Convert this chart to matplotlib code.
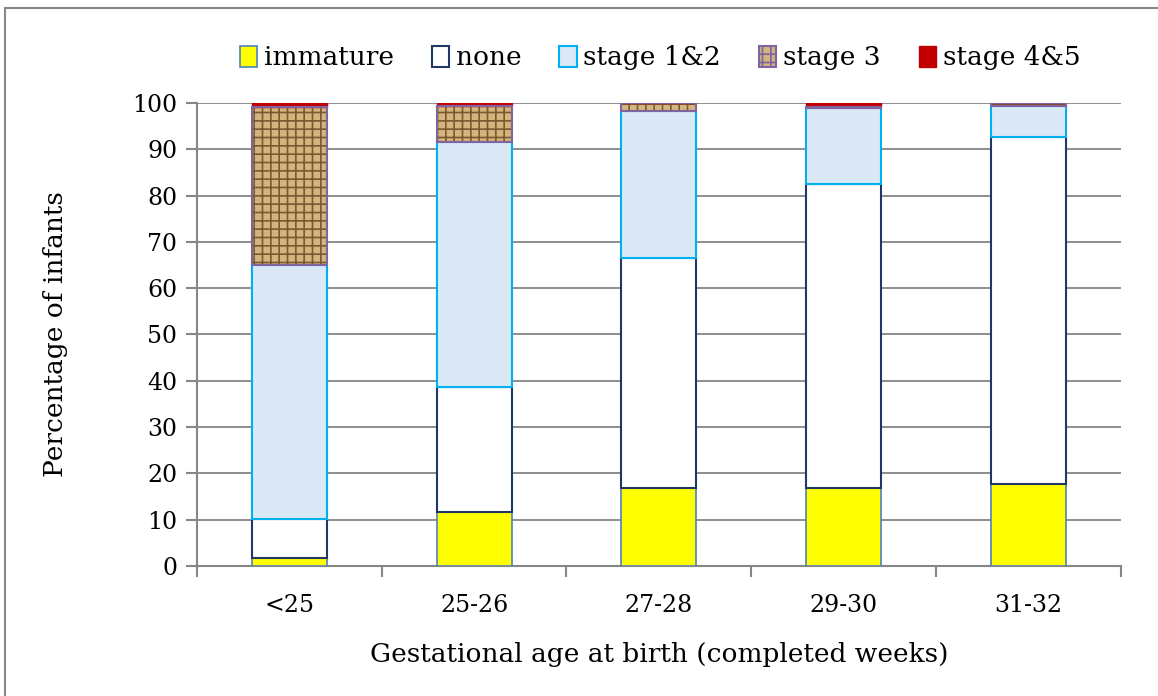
import numpy as np
import matplotlib.pyplot as plt
from matplotlib.patches import Patch, Rectangle

plt.rcParams.update(
    {
        "font.family": "DejaVu Serif",
        "hatch.linewidth": 1.2,
    }
)

categories = ["<25", "25-26", "27-28", "29-30", "31-32"]
immature = [1.7, 11.7, 16.8, 16.8, 17.7]
none = [8.5, 27.0, 49.7, 65.7, 75.0]
stage12 = [54.8, 52.9, 31.8, 16.4, 6.7]
stage3 = [34.2, 7.7, 1.7, 0.3, 0.6]
stage45 = [0.8, 0.7, 0.0, 0.8, 0.0]

series = [
    ("immature", immature, dict(facecolor="#ffff00", edgecolor="#4f81bd", linewidth=1.2)),
    ("none", none, dict(facecolor="white", edgecolor="#1f3864", linewidth=1.5)),
    ("stage 1&2", stage12, dict(facecolor="#dbe9f6", edgecolor="#00b0f0", linewidth=1.5)),
    ("stage 3", stage3, dict(facecolor="#d2b47c", edgecolor="#8064a2", linewidth=1.5)),
    ("stage 4&5", stage45, dict(facecolor="#c00000", edgecolor="#c00000", linewidth=1.0)),
]

if __name__ == "__main__":
    fig = plt.figure(figsize=(11.58, 6.96), dpi=100)
    ax = fig.add_axes([0.170, 0.187, 0.798, 0.665])

    x = np.arange(len(categories))
    width = 0.405
    bottom = np.zeros(len(categories))
    handles = []
    for name, vals, style in series:
        vals = np.array(vals)
        if name == "stage 3":
            # woven texture first, then the purple outline on top
            ax.bar(x, vals, width, bottom=bottom, facecolor=style["facecolor"],
                   edgecolor="#7a5a2e", hatch="++", linewidth=0, zorder=3)
            ax.bar(x, vals, width, bottom=bottom, facecolor="none",
                   edgecolor=style["edgecolor"], linewidth=style["linewidth"], zorder=4)
            handles.append(Patch(facecolor=style["facecolor"], edgecolor=style["edgecolor"],
                                 hatch="++", linewidth=1.5, label=name))
        else:
            ax.bar(x, vals, width, bottom=bottom, zorder=3, **style)
            handles.append(Patch(label=name, **style))
        bottom += vals

    ax.set_ylim(0, 100)
    ax.set_xlim(-0.5, len(categories) - 0.5)
    ax.set_yticks(np.arange(0, 101, 10))
    ax.set_xticks(x)
    ax.set_xticklabels(categories)
    ax.set_xticks(np.arange(-0.5, len(categories), 1), minor=True)
    ax.tick_params(axis="x", which="major", length=0, pad=20, labelsize=17)
    ax.tick_params(axis="x", which="minor", length=8, width=1.5, color="#868686", direction="out")
    ax.tick_params(axis="y", length=8, width=1.5, color="#868686", direction="out", labelsize=17, pad=6)

    ax.yaxis.grid(True, color="#868686", linewidth=1.3)
    ax.set_axisbelow(True)
    for side in ["top", "right"]:
        ax.spines[side].set_visible(False)
    for side in ["left", "bottom"]:
        ax.spines[side].set_color("#868686")
        ax.spines[side].set_linewidth(1.5)

    ax.set_ylabel("Percentage of infants", fontsize=19, labelpad=46)
    ax.set_xlabel("Gestational age at birth (completed weeks)", fontsize=19, labelpad=18)

    fig.legend(handles=handles, loc="center", bbox_to_anchor=(0.57, 0.917), ncol=5,
               frameon=False, fontsize=19, handlelength=0.65, handleheight=0.85,
               handletextpad=0.25, columnspacing=1.45)

    fig.patches.append(Rectangle((5 / 1158, -0.1), 2, 1.1 - 8 / 696, transform=fig.transFigure,
                                 facecolor="none", edgecolor="#868686", linewidth=1.5))

    fig.savefig("out.png", dpi=100)
